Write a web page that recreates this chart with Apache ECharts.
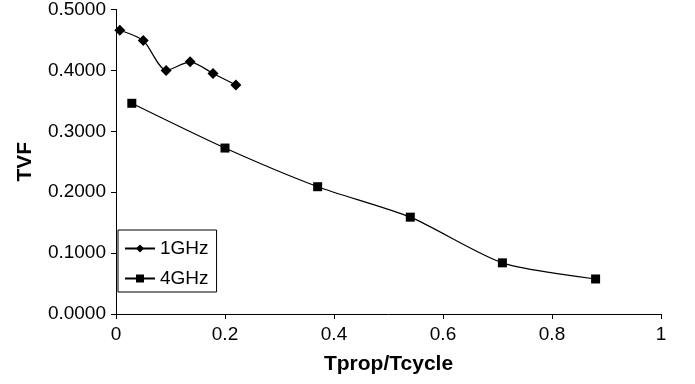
<!DOCTYPE html>
<html>
<head>
<meta charset="utf-8">
<script src="https://cdn.jsdelivr.net/npm/echarts@6/dist/echarts.min.js"></script>
<style>
  html, body { margin: 0; padding: 0; background: #fff; }
  #chart { width: 695px; height: 384px; }
</style>
</head>
<body>
<div id="chart"></div>
<script>
// values
const x1GHz = [0.007, 0.05, 0.092, 0.136, 0.178, 0.22];
const y1GHz = [0.466, 0.449, 0.4, 0.414, 0.395, 0.376];
const x4GHz = [0.029, 0.2, 0.37, 0.54, 0.709, 0.88];
const y4GHz = [0.346, 0.2725, 0.209, 0.159, 0.084, 0.0575];

const pairs = (xs, ys) => xs.map((x, i) => [x, ys[i]]);

const chart = echarts.init(document.getElementById('chart'));
const font = 'Liberation Sans, Arial, sans-serif';
const axisLine = { show: true, lineStyle: { color: '#000', width: 1 } };

chart.setOption({
  animation: false,
  textStyle: { fontFamily: font },
  grid: { left: 116, right: 34, top: 7, bottom: 70, containLabel: false },
  legend: {
    left: 118,
    top: 230,
    orient: 'vertical',
    padding: [9, 8, 4, 6],
    itemGap: 11,
    itemWidth: 30,
    itemHeight: 10,
    borderColor: '#000',
    borderWidth: 1,
    borderRadius: 0,
    textStyle: { fontFamily: font, fontSize: 19, color: '#000' },
    data: ['1GHz', '4GHz']
  },
  xAxis: {
    type: 'value',
    min: 0,
    max: 1,
    interval: 0.2,
    name: 'Tprop/Tcycle',
    nameLocation: 'middle',
    nameGap: 40,
    nameTextStyle: { fontFamily: font, fontSize: 21, fontWeight: 'bold', color: '#000' },
    axisLine: axisLine,
    axisTick: { show: true, inside: false, length: 5, lineStyle: { color: '#000' } },
    axisLabel: { color: '#000', fontSize: 19, margin: 11, fontFamily: font },
    splitLine: { show: false }
  },
  yAxis: {
    type: 'value',
    min: 0,
    max: 0.5,
    interval: 0.1,
    name: 'TVF',
    nameLocation: 'middle',
    nameGap: 80,
    nameTextStyle: { fontFamily: font, fontSize: 21, fontWeight: 'bold', color: '#000' },
    axisLine: axisLine,
    axisTick: { show: true, inside: false, length: 5, lineStyle: { color: '#000' } },
    axisLabel: {
      color: '#000', fontSize: 19, margin: 10, fontFamily: font,
      formatter: v => v.toFixed(4)
    },
    splitLine: { show: false }
  },
  series: [
    {
      name: '1GHz',
      type: 'line',
      smooth: 0.25,
      symbol: 'diamond',
      symbolSize: 11,
      lineStyle: { color: '#000', width: 1.2 },
      itemStyle: { color: '#000' },
      data: pairs(x1GHz, y1GHz)
    },
    {
      name: '4GHz',
      type: 'line',
      smooth: 0.25,
      symbol: 'rect',
      symbolSize: 9,
      lineStyle: { color: '#000', width: 1.2 },
      itemStyle: { color: '#000' },
      data: pairs(x4GHz, y4GHz)
    }
  ]
});
</script>
</body>
</html>
